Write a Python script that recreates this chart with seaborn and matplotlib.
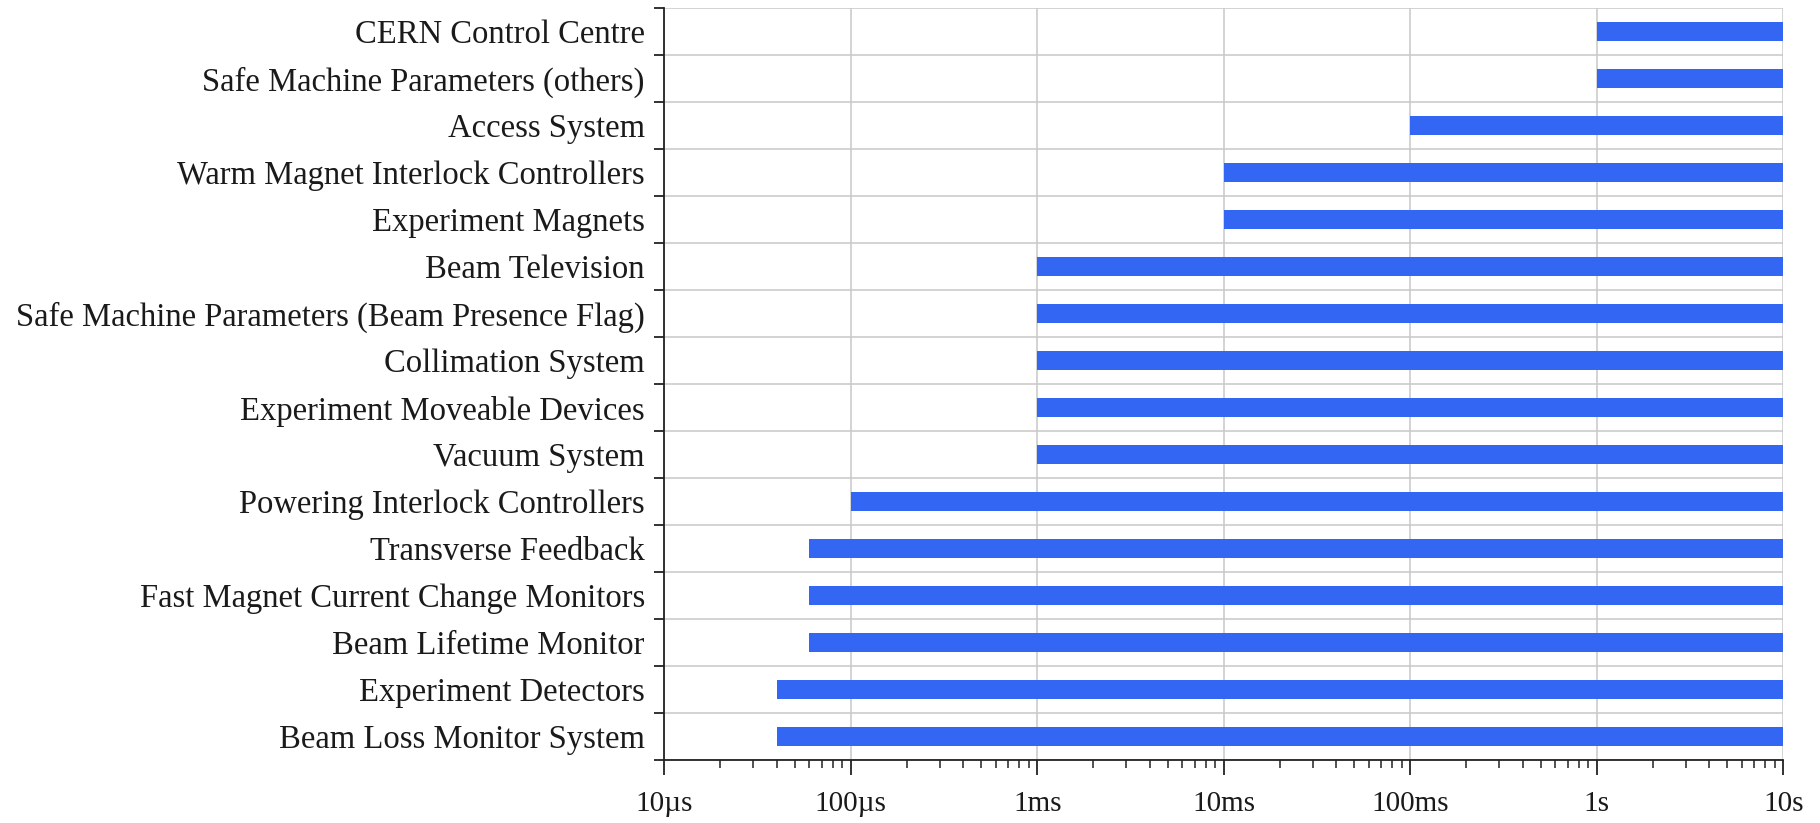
import matplotlib
matplotlib.use("Agg")
import matplotlib.pyplot as plt
import matplotlib.ticker as mticker
import numpy as np
import pandas as pd
import seaborn as sns

systems = [
    "CERN Control Centre",
    "Safe Machine Parameters (others)",
    "Access System",
    "Warm Magnet Interlock Controllers",
    "Experiment Magnets",
    "Beam Television",
    "Safe Machine Parameters (Beam Presence Flag)",
    "Collimation System",
    "Experiment Moveable Devices",
    "Vacuum System",
    "Powering Interlock Controllers",
    "Transverse Feedback",
    "Fast Magnet Current Change Monitors",
    "Beam Lifetime Monitor",
    "Experiment Detectors",
    "Beam Loss Monitor System",
]
# response time range start (seconds) and end (seconds)
start_s = [1.0, 1.0, 0.1, 0.01, 0.01, 1e-3, 1e-3, 1e-3, 1e-3, 1e-3,
           1e-4, 6e-5, 6e-5, 6e-5, 4e-5, 4e-5]
end_s = [10.0] * 16

tick_vals = [1e-5, 1e-4, 1e-3, 1e-2, 1e-1, 1, 10]
tick_labels = ["10\u00b5s", "100\u00b5s", "1ms", "10ms", "100ms", "1s", "10s"]

df = pd.DataFrame({
    "system": systems,
    "span": np.array(end_s) - np.array(start_s),
})

sns.set_theme(style="white")
plt.rcParams["font.family"] = ["Liberation Serif", "DejaVu Serif"]

fig = plt.figure(figsize=(18.2, 8.23), dpi=100)
ax = fig.add_axes([0.365, 0.0766, 0.6148, 0.9134])
ax.set_xscale("log")

sns.barplot(data=df, x="span", y="system", orient="y", ax=ax,
            color="#3366f2", saturation=1, width=0.4,
            left=np.array(start_s), linewidth=0, zorder=3)

ax.set_xlim(1e-5, 10)
ax.set_ylim(15.5, -0.5)

ax.xaxis.set_major_locator(mticker.FixedLocator(tick_vals))
ax.xaxis.set_major_formatter(mticker.FixedFormatter(tick_labels))
ax.xaxis.set_minor_locator(mticker.LogLocator(base=10, subs=np.arange(2, 10)))
ax.xaxis.set_minor_formatter(mticker.NullFormatter())

ax.yaxis.set_minor_locator(mticker.FixedLocator(np.arange(-0.5, 16, 1.0)))
ax.set_xlabel("")
ax.set_ylabel("")

ax.grid(False)
ax.grid(True, axis="x", which="major", color="#c8c8c8", linewidth=1.1, zorder=0)
ax.grid(True, axis="y", which="minor", color="#c8c8c8", linewidth=1.1, zorder=0)
ax.set_axisbelow(True)

for s in ["top", "right"]:
    ax.spines[s].set_visible(False)
for s in ["left", "bottom"]:
    ax.spines[s].set_color("#222222")
    ax.spines[s].set_linewidth(1.3)

ax.tick_params(axis="x", which="major", direction="out", length=11, width=1.3,
               color="#222222", labelsize=21, pad=11, bottom=True)
ax.tick_params(axis="x", which="minor", direction="out", length=6, width=1.1,
               color="#222222", bottom=True)
ax.tick_params(axis="y", which="major", length=0, labelsize=23.5, pad=14, left=True)
ax.tick_params(axis="y", which="minor", direction="out", length=7, width=1.3,
               color="#222222", left=True)

for lbl in ax.get_xticklabels() + ax.get_yticklabels():
    lbl.set_color("#1a1a1a")

fig.savefig("out.png", dpi=100)
